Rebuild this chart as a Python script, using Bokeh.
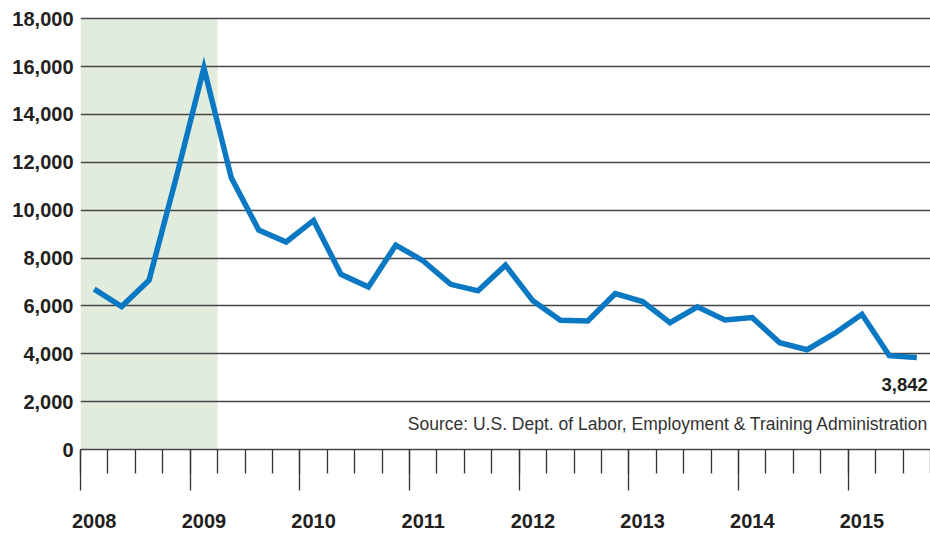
from bokeh.plotting import figure
from bokeh.models import (Range1d, FixedTicker, LinearAxis, Label, NumeralTickFormatter,
                          CustomLabelingPolicy)
from bokeh.embed import file_html
from bokeh.resources import INLINE

# ---- data (quarterly) ----
periods = [
    "2008-Q1", "2008-Q2", "2008-Q3", "2008-Q4",
    "2009-Q1", "2009-Q2", "2009-Q3", "2009-Q4",
    "2010-Q1", "2010-Q2", "2010-Q3", "2010-Q4",
    "2011-Q1", "2011-Q2", "2011-Q3", "2011-Q4",
    "2012-Q1", "2012-Q2", "2012-Q3", "2012-Q4",
    "2013-Q1", "2013-Q2", "2013-Q3", "2013-Q4",
    "2014-Q1", "2014-Q2", "2014-Q3", "2014-Q4",
    "2015-Q1", "2015-Q2", "2015-Q3",
]
values = [
    6700, 5970, 7070, 11400,
    15950, 11350, 9170, 8670,
    9570, 7320, 6790, 8540,
    7880, 6900, 6630, 7700,
    6210, 5400, 5370, 6510,
    6180, 5300, 5960, 5410,
    5510, 4460, 4170, 4850,
    5650, 3920, 3842,
]
years = [2008, 2009, 2010, 2011, 2012, 2013, 2014, 2015]
year_labels = ["2008", "2009", "2010", "2011", "2012", "2013", "2014", "2015"]
y_ticks = [0, 2000, 4000, 6000, 8000, 10000, 12000, 14000, 16000, 18000]
shade_start = 2008.0
shade_end = 2009.25
source_text = "Source: U.S. Dept. of Labor, Employment & Training Administration"

# quarter midpoints as decimal years
xs = [int(s[:4]) + (int(s[-1]) - 0.5) / 4 for s in periods]
quarter_ticks = [y + q / 4 for y in years for q in range(4)]
label_pos = [y + 0.125 for y in years]
x_end = years[-1] + 0.75

FONT = "Liberation Sans"
TXT = "#231f20"
GRID = "#474747"

p = figure(width=930, height=538, output_backend="svg", toolbar_location=None,
           x_range=Range1d(years[0], x_end), y_range=Range1d(0, 18090),
           x_axis_location=None,
           min_border_left=80, min_border_right=0, min_border_top=16,
           min_border_bottom=89)
p.outline_line_color = None
p.background_fill_color = "white"

# shading
p.quad(left=[shade_start], right=[shade_end], bottom=[y_ticks[0]], top=[y_ticks[-1]],
       fill_color="#e1ecdc", line_color=None, level="image")

# y axis
ya = p.yaxis[0]
ya.ticker = FixedTicker(ticks=y_ticks)
ya.formatter = NumeralTickFormatter(format="0,0")
ya.axis_line_color = None
ya.major_tick_line_color = None
ya.minor_tick_line_color = None
ya.major_label_standoff = 1
ya.major_label_text_font = FONT
ya.major_label_text_font_style = "bold"
ya.major_label_text_font_size = "20px"
ya.major_label_text_color = TXT

p.ygrid.ticker = FixedTicker(ticks=y_ticks)
p.ygrid.grid_line_color = GRID
p.ygrid.grid_line_width = 1.6
p.xgrid.grid_line_color = None

# x axis with tick marks only
xa = LinearAxis(ticker=FixedTicker(ticks=years, minor_ticks=quarter_ticks))
xa.axis_line_color = GRID
xa.axis_line_width = 1.6
xa.major_tick_line_color = "#333333"
xa.major_tick_line_width = 1.3
xa.major_tick_in = 0
xa.major_tick_out = 41
xa.minor_tick_line_color = "#333333"
xa.minor_tick_line_width = 1.3
xa.minor_tick_in = 0
xa.minor_tick_out = 24
xa.major_label_policy = CustomLabelingPolicy(code="return []")
xa.major_label_text_font_size = "1px"
xa.major_label_standoff = 0
p.add_layout(xa, "below")

# x axis carrying year labels
xb = LinearAxis(ticker=FixedTicker(ticks=label_pos, minor_ticks=[]))
xb.major_label_overrides = {pos: lab for pos, lab in zip(label_pos, year_labels)}
xb.axis_line_color = None
xb.major_tick_line_color = None
xb.minor_tick_line_color = None
xb.major_label_standoff = 13
xb.major_label_text_font = FONT
xb.major_label_text_font_style = "bold"
xb.major_label_text_font_size = "20px"
xb.major_label_text_color = TXT
p.add_layout(xb, "below")

# line
p.line(xs, values, line_color="#0a78c2", line_width=5.5, line_join="miter")

# last value label
p.add_layout(Label(x=xs[-1], y=values[-1], text=f"{values[-1]:,}",
                   x_offset=11, y_offset=-20, text_align="right", text_baseline="top",
                   text_font=FONT, text_font_style="bold", text_font_size="18.5px",
                   text_color=TXT))

# source note
p.add_layout(Label(x=x_end, y=0, text=source_text, x_offset=-2, y_offset=26,
                   text_align="right", text_baseline="alphabetic",
                   text_font=FONT, text_font_size="17.5px", text_color="#333333"))

open("out.html", "w").write(file_html(p, INLINE))
